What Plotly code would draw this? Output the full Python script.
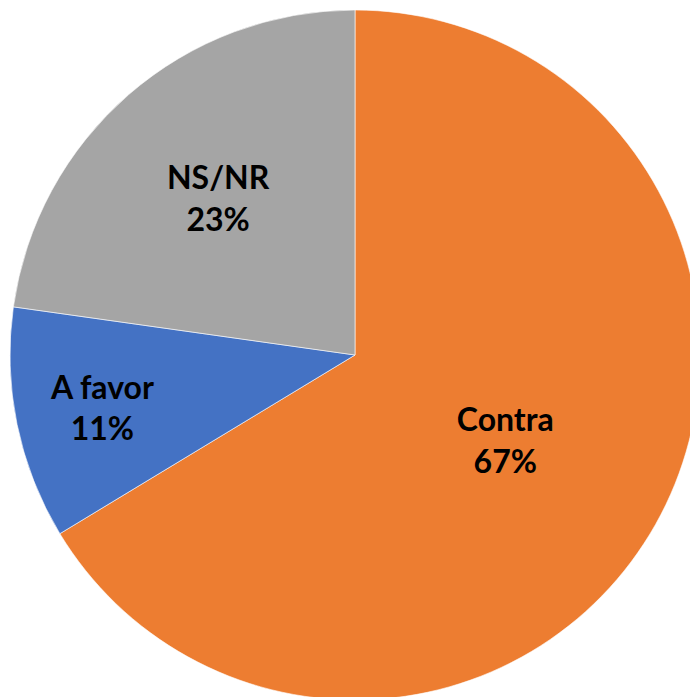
import plotly.graph_objects as go

labels = ["Contra", "A favor", "NS/NR"]
values = [67, 11, 23]
colors = ["#ED7D31", "#4472C4", "#A5A5A5"]

fig = go.Figure(go.Pie(
    labels=labels,
    values=values,
    sort=False,
    direction="clockwise",
    rotation=0,
    marker=dict(colors=colors, line=dict(color="#FFFFFF", width=0.6)),
    texttemplate="<b>%{label}</b><br><b>%{value}%</b>",
    textposition="inside",
    insidetextorientation="horizontal",
    textfont=dict(family="Lato, Open Sans, sans-serif", size=32, color="#000000"),
    hoverinfo="label+percent",
    showlegend=False,
))

fig.update_layout(
    width=700, height=700,
    autosize=False,
    margin=dict(l=10, r=0, t=10, b=0),
    paper_bgcolor="#FFFFFF",
    plot_bgcolor="#FFFFFF",
    showlegend=False,
)

fig.write_html(
    "out.html",
    config={"displayModeBar": False},
    post_script="document.body.style.margin='0';document.body.style.overflow='hidden';",
)
